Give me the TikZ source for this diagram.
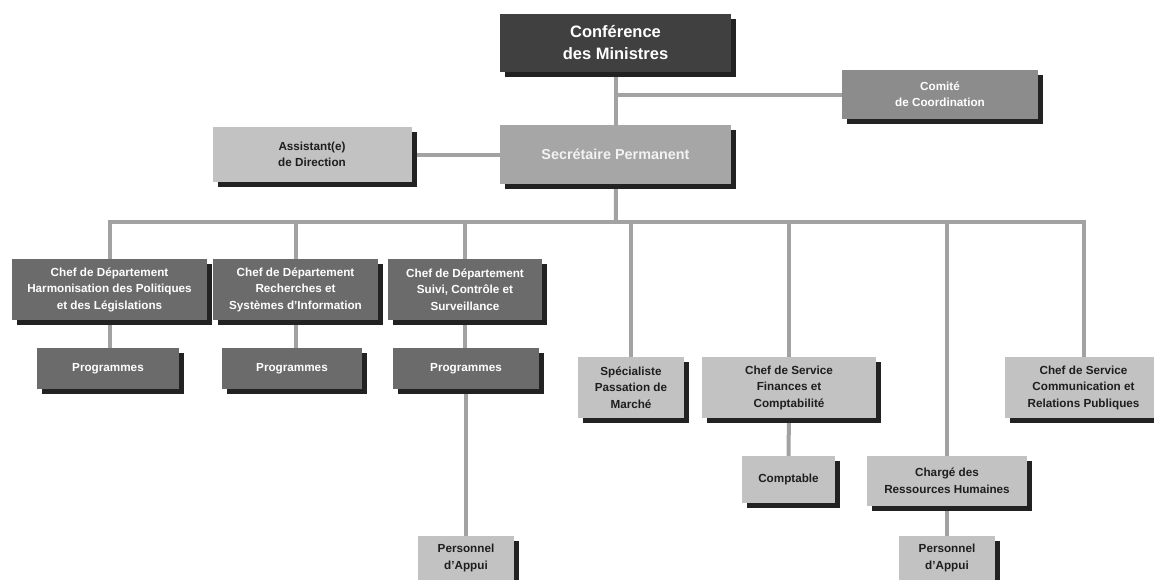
\documentclass[tikz,border=0pt]{standalone}
\usepackage{fontspec}
\setmainfont{Liberation Sans}
\usetikzlibrary{shadows,backgrounds}

\definecolor{linegray}{HTML}{A2A2A2}
\definecolor{shadowc}{HTML}{222222}
\definecolor{topfill}{HTML}{404040}
\definecolor{comitefill}{HTML}{8C8C8C}
\definecolor{secfill}{HTML}{A6A6A6}
\definecolor{darkfill}{HTML}{6B6B6B}
\definecolor{lightfill}{HTML}{C2C2C2}
\definecolor{textdark}{HTML}{1E1E1E}

\newcommand\orgsmall{\fontsize{11.7}{16.5}\selectfont\bfseries}
\newcommand\orgmid{\fontsize{14.4}{18}\selectfont\bfseries}
\newcommand\orgbig{\fontsize{16.5}{22}\selectfont\bfseries}

\begin{document}
\begin{tikzpicture}[x=1pt,y=-1pt,
  orgbox/.style={rectangle, inner sep=0pt, align=center, font=\orgsmall,
    drop shadow={shadow xshift=5pt, shadow yshift=-5pt, fill=shadowc, opacity=1}},
  darkbox/.style={orgbox, fill=darkfill, text=white},
  lightbox/.style={orgbox, fill=lightfill, text=textdark},
  dims/.style 2 args={minimum width=#1pt, minimum height=#2pt},
  link/.style={draw=linegray, line width=4pt}]

\useasboundingbox (0,0) rectangle (1154,579);
\clip (0,0) rectangle (1154,579);

% top of the hierarchy
\node[orgbox, fill=topfill, text=white, font=\orgbig, dims={231}{58}] (conf) at (615.5,43) {Conférence\\des Ministres};
\node[orgbox, fill=comitefill, text=white, dims={196}{49}] (comite) at (940,94.5) {Comité\\de Coordination};
\node[orgbox, fill=secfill, text=white!95!black, font=\orgmid, dims={231}{59}] (secr) at (615.5,154.5) {Secrétaire Permanent};
\node[lightbox, dims={199}{55}] (assist) at (312,154.5) {Assistant(e)\\de Direction};

% departments
\node[darkbox, dims={195}{61}] (dep1) at (109.5,289.5) {Chef de Département\\Harmonisation des Politiques\\et des Législations};
\node[darkbox, dims={165}{61}] (dep2) at (295.5,289.5) {Chef de Département\\Recherches et\\Systèmes d'Information};
\node[darkbox, dims={154}{61}] (dep3) at (465,289.5) {Chef de Département\\Suivi, Contrôle et\\Surveillance};

\node[darkbox, dims={142}{41}] (prog1) at (108,368.5) {Programmes};
\node[darkbox, dims={140}{41}] (prog2) at (292,368.5) {Programmes};
\node[darkbox, dims={146}{41}] (prog3) at (466,368.5) {Programmes};

% services
\node[lightbox, dims={106}{61}] (spec) at (631,387.5) {Spécialiste\\Passation de\\Marché};
\node[lightbox, dims={174}{61}] (fin) at (789,387.5) {Chef de Service\\Finances et\\Comptabilité};
\node[lightbox, dims={157}{61}] (comm) at (1083.5,387.5) {Chef de Service\\Communication et\\Relations Publiques};

\node[lightbox, dims={93}{47}] (compt) at (788.5,479.5) {Comptable};
\node[lightbox, dims={160}{50}] (rh) at (947,481) {Chargé des\\Ressources Humaines};

\node[lightbox, dims={96}{44}] (pers1) at (466,558) {Personnel\\d'Appui};
\node[lightbox, dims={96}{44}] (pers2) at (947,558) {Personnel\\d'Appui};

\coordinate (bus) at (616,222);

% connectors, behind the boxes
\begin{scope}[on background layer]
  \draw[link] (conf) -- (secr);
  \draw[link] (conf |- comite) -- (comite);
  \draw[link] (assist) -- (assist -| secr);
  \draw[link] (secr) -- (bus);
  \draw[link, line cap=rect] (dep1 |- bus) -- (comm |- bus);
  \draw[link] (dep1 |- bus) -- (prog1 -| dep1);
  \draw[link] (dep2 |- bus) -- (prog2 -| dep2);
  \draw[link] (dep3 |- bus) -- (prog3 -| dep3);
  \draw[link] (prog3) -- (pers1);
  \draw[link] (spec |- bus) -- (spec);
  \draw[link] (fin |- bus) -- (fin);
  \draw[link] (fin) -- (compt);
  \draw[link] (rh |- bus) -- (rh);
  \draw[link] (rh) -- (pers2);
  \draw[link] (comm |- bus) -- (comm);
\end{scope}
\end{tikzpicture}
\end{document}
